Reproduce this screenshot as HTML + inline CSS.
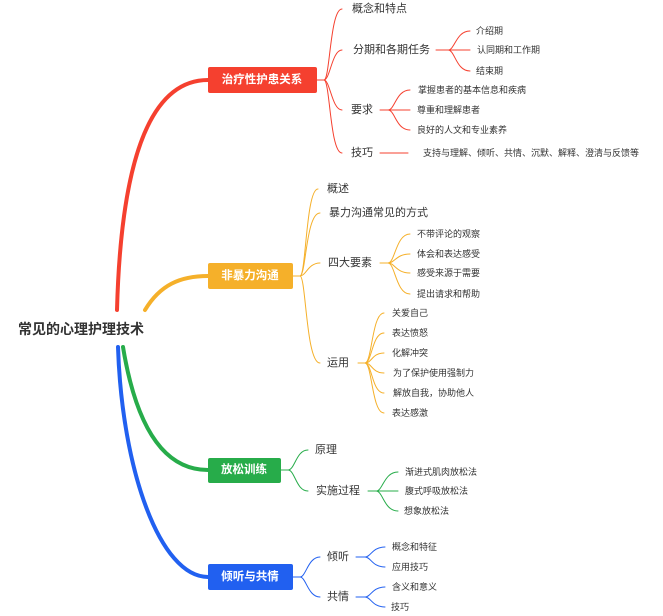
<!DOCTYPE html>
<html><head><meta charset="utf-8"><style>
html,body{margin:0;padding:0;background:#fff;width:663px;height:616px;overflow:hidden}
svg text{font-family:"Liberation Sans","Noto Sans CJK SC",sans-serif;fill:#333;dominant-baseline:central}
.l1{font-size:11px}.l2{font-size:9px}
.b{font-size:11.5px;font-weight:bold;fill:#fff;text-anchor:middle}
</style></head><body>
<svg width="663" height="616" viewBox="0 0 663 616" xmlns="http://www.w3.org/2000/svg">
<g fill="none" stroke-linecap="round">
<!-- main -->
<path d="M117,310 C121,160 150,80 208,80" stroke="#f5402f" stroke-width="4"/>
<path d="M145,310 C160,285 180,276 208,276" stroke="#f5b02a" stroke-width="4"/>
<path d="M123,347 C135,420 160,470 208,470" stroke="#27ac4a" stroke-width="4"/>
<path d="M118,347 C122,470 160,577 208,577" stroke="#2160f0" stroke-width="4"/>
<!-- red -->
<g stroke="#f5402f" stroke-width="1">
<path d="M317,80 H324"/>
<path d="M324,80 C330,80 330,9 342,9"/>
<path d="M324,80 C330,80 332,50 342,50"/>
<path d="M324,80 C330,80 332,110 342,110"/>
<path d="M324,80 C330,80 330,153 342,153"/>
<path d="M436,50 H470"/>
<path d="M448,50 C455,50 456,31 470,31"/>
<path d="M448,50 C455,50 456,71 470,71"/>
<path d="M380,110 H410"/>
<path d="M388,110 C395,110 396,90 410,90"/>
<path d="M388,110 C395,110 396,130 410,130"/>
<path d="M380,153 H408"/>
</g>
<!-- orange -->
<g stroke="#f5b02a" stroke-width="1">
<path d="M293,276 H300"/>
<path d="M300,276 C306,276 306,189 318,189"/>
<path d="M300,276 C306,276 306,213 320,213"/>
<path d="M300,276 C306,276 308,263 320,263"/>
<path d="M300,276 C306,276 306,363 320,363"/>
<path d="M380,263 H388"/>
<path d="M388,263 C395,263 396,234 410,234"/>
<path d="M388,263 C395,263 396,254 410,254"/>
<path d="M388,263 C395,263 396,273 410,273"/>
<path d="M388,263 C395,263 396,294 410,294"/>
<path d="M358,363 H365"/>
<path d="M365,363 C372,363 372,313 384,313"/>
<path d="M365,363 C372,363 372,333 384,333"/>
<path d="M365,363 C372,363 372,353 384,353"/>
<path d="M365,363 C372,363 372,373 384,373"/>
<path d="M365,363 C372,363 372,393 384,393"/>
<path d="M365,363 C372,363 372,413 384,413"/>
</g>
<!-- green -->
<g stroke="#27ac4a" stroke-width="1">
<path d="M281,470 H288"/>
<path d="M288,470 C295,470 296,450 308,450"/>
<path d="M288,470 C295,470 296,491 308,491"/>
<path d="M368,491 H398"/>
<path d="M376,491 C383,491 384,472 398,472"/>
<path d="M376,491 C383,491 384,511 398,511"/>
</g>
<!-- blue -->
<g stroke="#2160f0" stroke-width="1">
<path d="M293,577 H300"/>
<path d="M300,577 C306,577 308,557 320,557"/>
<path d="M300,577 C306,577 308,597 320,597"/>
<path d="M356,557 H365"/>
<path d="M365,557 C371,557 372,547 385,547"/>
<path d="M365,557 C371,557 372,567 385,567"/>
<path d="M356,597 H365"/>
<path d="M365,597 C371,597 372,587 385,587"/>
<path d="M365,597 C371,597 372,607 385,607"/>
</g>
</g>
<!-- boxes -->
<rect x="208" y="67" width="109" height="26" rx="2" fill="#f5402f"/>
<text class="b" x="262" y="80">治疗性护患关系</text>
<rect x="208" y="263" width="85" height="26" rx="2" fill="#f5b02a"/>
<text class="b" x="250" y="276">非暴力沟通</text>
<rect x="208" y="458" width="73" height="25" rx="2" fill="#27ac4a"/>
<text class="b" x="244" y="470">放松训练</text>
<rect x="208" y="564" width="85" height="26" rx="2" fill="#2160f0"/>
<text class="b" x="250" y="577">倾听与共情</text>
<text x="18" y="329" style="font-size:14px;font-weight:bold">常见的心理护理技术</text>
<!-- red text -->
<text class="l1" x="352" y="9">概念和特点</text>
<text class="l1" x="353" y="50">分期和各期任务</text>
<text class="l1" x="351" y="110">要求</text>
<text class="l1" x="351" y="153">技巧</text>
<text class="l2" x="476" y="31">介绍期</text>
<text class="l2" x="477" y="50">认同期和工作期</text>
<text class="l2" x="476" y="71">结束期</text>
<text class="l2" x="418" y="90">掌握患者的基本信息和疾病</text>
<text class="l2" x="417" y="110">尊重和理解患者</text>
<text class="l2" x="417" y="130">良好的人文和专业素养</text>
<text class="l2" x="423" y="153">支持与理解、倾听、共情、沉默、解释、澄清与反馈等</text>
<!-- orange text -->
<text class="l1" x="327" y="189">概述</text>
<text class="l1" x="329" y="213">暴力沟通常见的方式</text>
<text class="l1" x="328" y="263">四大要素</text>
<text class="l1" x="327" y="363">运用</text>
<text class="l2" x="417" y="234">不带评论的观察</text>
<text class="l2" x="417" y="254">体会和表达感受</text>
<text class="l2" x="417" y="273">感受来源于需要</text>
<text class="l2" x="417" y="294">提出请求和帮助</text>
<text class="l2" x="392" y="313">关爱自己</text>
<text class="l2" x="392" y="333">表达愤怒</text>
<text class="l2" x="392" y="353">化解冲突</text>
<text class="l2" x="393" y="373">为了保护使用强制力</text>
<text class="l2" x="393" y="393">解放自我，协助他人</text>
<text class="l2" x="392" y="413">表达感激</text>
<!-- green text -->
<text class="l1" x="315" y="450">原理</text>
<text class="l1" x="316" y="491">实施过程</text>
<text class="l2" x="405" y="472">渐进式肌肉放松法</text>
<text class="l2" x="405" y="491">腹式呼吸放松法</text>
<text class="l2" x="404" y="511">想象放松法</text>
<!-- blue text -->
<text class="l1" x="327" y="557">倾听</text>
<text class="l1" x="327" y="597">共情</text>
<text class="l2" x="392" y="547">概念和特征</text>
<text class="l2" x="392" y="567">应用技巧</text>
<text class="l2" x="392" y="587">含义和意义</text>
<text class="l2" x="391" y="607">技巧</text>
</svg>
</body></html>
